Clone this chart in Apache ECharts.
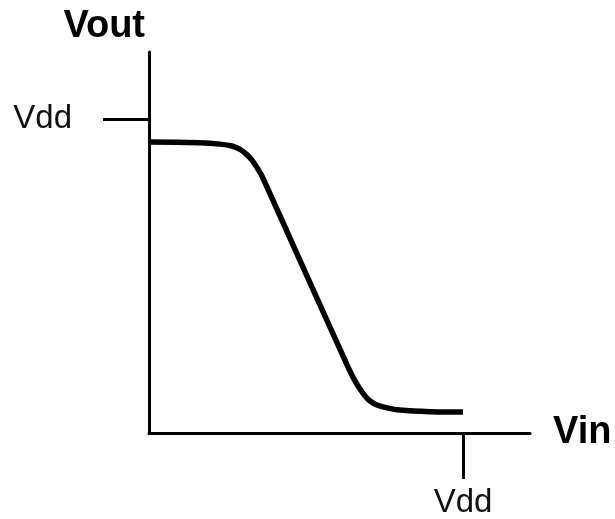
<!DOCTYPE html>
<html>
<head>
<meta charset="utf-8">
<script src="https://cdn.jsdelivr.net/npm/echarts@6/dist/echarts.min.js"></script>
<style>
  html, body { margin: 0; padding: 0; background: #fff; }
  #chart { width: 615px; height: 519px; }
</style>
</head>
<body>
<div id="chart"></div>
<script>
// Inverter voltage transfer characteristic, in units of Vdd
const vin  = [0, 0.162, 0.226, 0.264, 0.290, 0.309, 0.325, 0.341, 0.360, 0.490, 0.624,
              0.640, 0.656, 0.672, 0.688, 0.704, 0.726, 0.758, 0.799, 0.895, 1.0];
const vout = [0.927, 0.924, 0.920, 0.914, 0.903, 0.889, 0.873, 0.850, 0.818, 0.529, 0.232,
              0.197, 0.166, 0.140, 0.118, 0.102, 0.089, 0.080, 0.073, 0.068, 0.067];
const tickValues = [1];
const tickLabel = 'Vdd';
const xName = 'Vin';
const yName = 'Vout';
const axisMax = 1.2134;

const chart = echarts.init(document.getElementById('chart'), null, { renderer: 'canvas' });

const axisLineStyle = { color: '#000', width: 3 };
const labelFont = { color: '#111', fontSize: 33, fontFamily: 'Liberation Sans, Arial, sans-serif' };
const nameFont = { color: '#000', fontSize: 38, fontWeight: 'bold', fontFamily: 'Liberation Sans, Arial, sans-serif' };

chart.setOption({
  animation: false,
  backgroundColor: '#fff',
  grid: { left: 149, right: 85, top: 52, bottom: 86, containLabel: false, outerBoundsMode: 'none' },
  xAxis: {
    type: 'value',
    min: 0,
    max: axisMax,
    name: xName,
    nameLocation: 'end',
    nameGap: 23,
    nameTextStyle: nameFont,
    axisLine: { show: true, lineStyle: axisLineStyle },
    axisTick: { show: true, customValues: tickValues, length: 46, lineStyle: axisLineStyle },
    axisLabel: Object.assign({ show: true, customValues: tickValues, margin: 53, formatter: () => tickLabel }, labelFont),
    splitLine: { show: false }
  },
  yAxis: {
    type: 'value',
    min: 0,
    max: axisMax,
    name: yName,
    nameLocation: 'end',
    nameGap: 6,
    nameTextStyle: Object.assign({ align: 'right', padding: [0, 4, 0, 0] }, nameFont),
    axisLine: { show: true, lineStyle: axisLineStyle },
    axisTick: { show: true, customValues: tickValues, length: 46, lineStyle: axisLineStyle },
    axisLabel: Object.assign({ show: true, customValues: tickValues, margin: 77, formatter: () => tickLabel }, labelFont),
    splitLine: { show: false }
  },
  series: [{
    type: 'line',
    data: vin.map((x, i) => [x, vout[i]]),
    smooth: 0.2,
    showSymbol: false,
    lineStyle: { color: '#000', width: 5.5, join: 'round' }
  }]
});
</script>
</body>
</html>
